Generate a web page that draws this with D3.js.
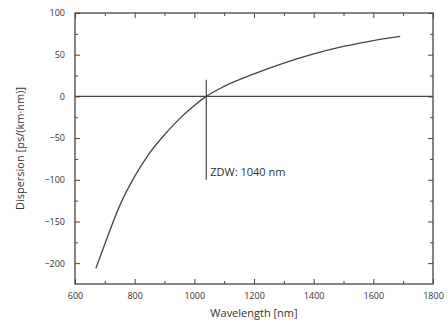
<!DOCTYPE html>
<html>
<head>
<meta charset="utf-8">
<script src="https://cdn.jsdelivr.net/npm/d3@7"></script>
<style>
  html, body { margin: 0; padding: 0; background: #fff; }
  svg text { font-family: "Open Sans", "Noto Sans", sans-serif; fill: #333; }
</style>
</head>
<body>
<div id="chart"></div>
<script>
// values
var wavelength = [670, 700, 750, 800, 850, 900, 950, 1000, 1040, 1100, 1200, 1300, 1400, 1500, 1600, 1690];
var dispersion = [-206, -177, -131, -96, -68, -46, -27, -11, 0, 12, 27, 40, 51, 60, 67, 72];
var zdw = 1040;
var zdwSpan = [20, -100];
var zdwLabel = 'ZDW: 1040 nm';
var xMajorTicks = [600, 800, 1000, 1200, 1400, 1600, 1800];
var xMinorTicks = [700, 900, 1100, 1300, 1500, 1700];
var yMajorTicks = [100, 50, 0, -50, -100, -150, -200];
var yMinorTicks = [75, 25, -25, -75, -125, -175];

var W = 448, H = 325;
var margin = { top: 13, right: 15, bottom: 41, left: 75 };
var width = W - margin.left - margin.right;
var height = H - margin.top - margin.bottom;
var ink = '#444';

var x = d3.scaleLinear().domain([600, 1800]).range([0, width]);
var y = d3.scaleLinear().domain([-225, 100]).range([height, 0]);

var svg = d3.select('#chart').append('svg')
    .attr('width', W)
    .attr('height', H);

var g = svg.append('g')
    .attr('transform', 'translate(' + margin.left + ',' + margin.top + ')');

function styleAxis(sel) {
  sel.select('.domain').remove();
  sel.selectAll('line').style('stroke', ink).style('stroke-width', 1);
  sel.selectAll('text').style('font-size', '9px').style('fill', '#333');
}

// minor ticks first
g.append('g').attr('transform', 'translate(0,' + height + ')')
    .call(d3.axisBottom(x).tickValues(xMinorTicks).tickSize(-3).tickFormat(''))
    .call(styleAxis);
g.append('g')
    .call(d3.axisTop(x).tickValues(xMinorTicks).tickSize(-3).tickFormat(''))
    .call(styleAxis);
g.append('g')
    .call(d3.axisLeft(y).tickValues(yMinorTicks).tickSize(-3).tickFormat(''))
    .call(styleAxis);
g.append('g').attr('transform', 'translate(' + width + ',0)')
    .call(d3.axisRight(y).tickValues(yMinorTicks).tickSize(-3).tickFormat(''))
    .call(styleAxis);

// major ticks
g.append('g').attr('transform', 'translate(0,' + height + ')')
    .call(d3.axisBottom(x).tickValues(xMajorTicks).tickSize(-5).tickPadding(9).tickFormat(d3.format('d')))
    .call(styleAxis);
g.append('g')
    .call(d3.axisTop(x).tickValues(xMajorTicks).tickSize(-5).tickFormat(''))
    .call(styleAxis);
g.append('g')
    .call(d3.axisLeft(y).tickValues(yMajorTicks).tickSize(-5).tickPadding(10).tickFormat(d3.format('d')))
    .call(styleAxis);
g.append('g').attr('transform', 'translate(' + width + ',0)')
    .call(d3.axisRight(y).tickValues(yMajorTicks).tickSize(-5).tickFormat(''))
    .call(styleAxis);

// frame
g.append('rect')
    .attr('width', width)
    .attr('height', height)
    .style('fill', 'none')
    .style('stroke', ink)
    .style('stroke-width', 1.3);

// zero line
g.append('line')
    .attr('x1', 0).attr('x2', width)
    .attr('y1', y(0)).attr('y2', y(0))
    .style('stroke', ink)
    .style('stroke-width', 1.3);

// ZDW marker
g.append('line')
    .attr('x1', x(zdw)).attr('x2', x(zdw))
    .attr('y1', y(zdwSpan[0])).attr('y2', y(zdwSpan[1]))
    .style('stroke', ink)
    .style('stroke-width', 1.2);

g.append('text')
    .attr('x', x(zdw) + 4)
    .attr('y', y(zdwSpan[1]) - 4)
    .style('font-size', '11px')
    .text(zdwLabel);

// dispersion curve
var line = d3.line()
    .x(function (d, i) { return x(wavelength[i]); })
    .y(function (d) { return y(d); })
    .curve(d3.curveMonotoneX);

g.append('path')
    .datum(dispersion)
    .attr('d', line)
    .style('fill', 'none')
    .style('stroke', ink)
    .style('stroke-width', 1.3);

// axis titles
svg.append('text')
    .attr('x', margin.left + width / 2)
    .attr('y', 317)
    .attr('text-anchor', 'middle')
    .style('font-size', '11px')
    .text('Wavelength [nm]');

svg.append('text')
    .attr('transform', 'translate(24,' + (margin.top + height / 2) + ') rotate(-90)')
    .attr('text-anchor', 'middle')
    .style('font-size', '11px')
    .text('Dispersion [ps/(km·nm)]');
</script>
</body>
</html>
